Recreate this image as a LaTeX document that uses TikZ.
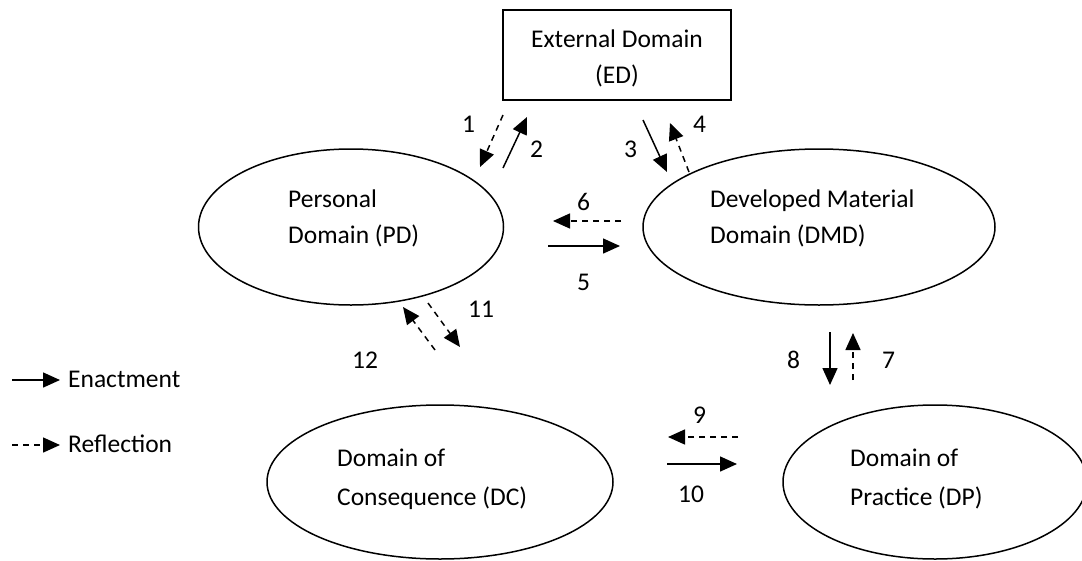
\documentclass[tikz,border=0pt]{standalone}
\usepackage{fontspec}
\setmainfont{Carlito}
\usetikzlibrary{shapes.geometric,arrows.meta}
\tikzset{
  dom/.style={ellipse, draw, line width=1.5pt, inner sep=0pt},
  lbl/.style={anchor=base west, inner sep=0pt, font=\fontsize{25.5}{30}\selectfont},
  tipa/.style={-{Triangle[length=17pt,width=15pt]}},
  enact/.style={tipa, line width=1.5pt},
  reflect/.style={tipa, line width=1.5pt, dash pattern=on 6pt off 5pt},
}
\begin{document}
\begin{tikzpicture}[x=1pt,y=-1pt]
\useasboundingbox (0,0) rectangle (1082,560);
\begin{scope}
\clip (0,0) rectangle (1082,560);
% domains
\node[draw, line width=1.5pt, minimum width=228pt, minimum height=90pt, inner sep=0pt] (ed) at (617,55) {};
\node[dom, minimum width=305pt, minimum height=156pt] (pd) at (351,227) {};
\node[dom, minimum width=352pt, minimum height=156pt] (dmd) at (819,227) {};
\node[dom, minimum width=346pt, minimum height=154pt] (dc) at (440,482) {};
\node[dom, minimum width=304pt, minimum height=154pt] (dp) at (935,482) {};
\end{scope}
% domain texts
\node[lbl, anchor=base] (edt1) at (617,47) {External Domain};
\node[lbl, anchor=base] (edt2) at (617,83) {(ED)};
\node[lbl] (pdt1) at (288,207) {Personal};
\node[lbl] (pdt2) at (288,243) {Domain (PD)};
\node[lbl] (dmdt1) at (710,207) {Developed Material};
\node[lbl] (dmdt2) at (710,243) {Domain (DMD)};
\node[lbl] (dct1) at (337,466) {Domain of};
\node[lbl] (dct2) at (337,505) {Consequence (DC)};
\node[lbl] (dpt1) at (850,466) {Domain of};
\node[lbl] (dpt2) at (850,505) {Practice (DP)};
% arrow end points
\coordinate (a1s) at (503,115); \coordinate (a1e) at (480,167);
\coordinate (a2s) at (503,168); \coordinate (a2e) at (527,117);
\coordinate (a3s) at (643,120); \coordinate (a3e) at (667,172);
\coordinate (a4s) at (689,172); \coordinate (a4e) at (670,123);
\coordinate (a6s) at (621,221); \coordinate (a6e) at (553,221);
\coordinate (a5s) at (548,246); \coordinate (a5e) at (620,246);
\coordinate (a12s) at (435,350); \coordinate (a12e) at (403,307);
\coordinate (a11s) at (428,303); \coordinate (a11e) at (460,347);
\coordinate (a8s) at (830,332); \coordinate (a8e) at (830,385);
\coordinate (a7s) at (853,380); \coordinate (a7e) at (853,333);
\coordinate (a9s) at (738,437); \coordinate (a9e) at (668,437);
\coordinate (a10s) at (667,464); \coordinate (a10e) at (737,464);
\coordinate (le1s) at (12,380); \coordinate (le1e) at (60,380);
\coordinate (le2s) at (12,445); \coordinate (le2e) at (60,445);
% arrows
\draw[reflect] (a1s) -- (a1e);
\draw[enact] (a2s) -- (a2e);
\draw[enact] (a3s) -- (a3e);
\draw[reflect] (a4s) -- (a4e);
\draw[reflect] (a6s) -- (a6e);
\draw[enact] (a5s) -- (a5e);
\draw[reflect] (a12s) -- (a12e);
\draw[reflect] (a11s) -- (a11e);
\draw[enact] (a8s) -- (a8e);
\draw[reflect] (a7s) -- (a7e);
\draw[reflect] (a9s) -- (a9e);
\draw[enact] (a10s) -- (a10e);
\draw[enact] (le1s) -- (le1e);
\draw[reflect] (le2s) -- (le2e);
% numbers
\node[lbl] (n1) at (462,132) {1};
\node[lbl] (n2) at (530,157) {2};
\node[lbl] (n3) at (624,157) {3};
\node[lbl] (n4) at (693,132) {4};
\node[lbl] (n6) at (577,210) {6};
\node[lbl] (n5) at (577,290) {5};
\node[lbl] (n11) at (468,317) {11};
\node[lbl] (n12) at (352,368) {12};
\node[lbl] (n8) at (787,368) {8};
\node[lbl] (n7) at (882,368) {7};
\node[lbl] (n9) at (693,423) {9};
\node[lbl] (n10) at (678,502) {10};
% legend
\node[lbl] (le1) at (68,387) {Enactment};
\node[lbl] (le2) at (68,452) {Reflection};
\end{tikzpicture}
\end{document}
